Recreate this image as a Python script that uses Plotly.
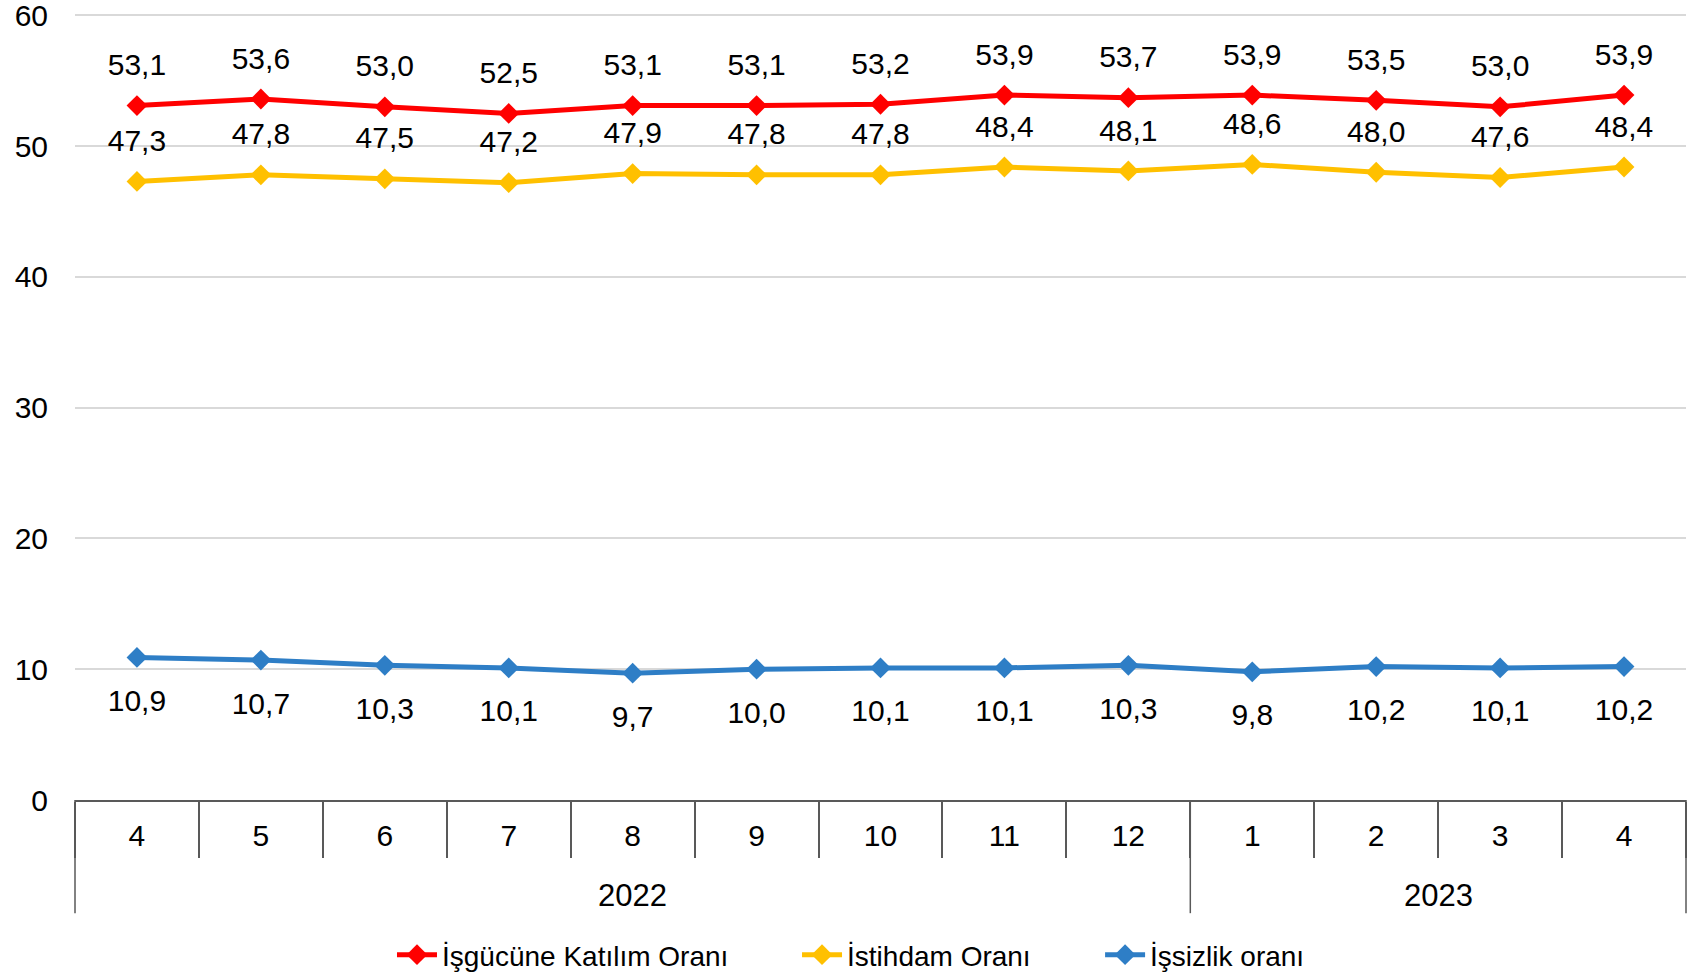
import plotly.graph_objects as go

years = ["2022"] * 9 + ["2023"] * 4
months = ["4", "5", "6", "7", "8", "9", "10", "11", "12", "1", "2", "3", "4"]

katilim = [53.1, 53.6, 53.0, 52.5, 53.1, 53.1, 53.2, 53.9, 53.7, 53.9, 53.5, 53.0, 53.9]
istihdam = [47.3, 47.8, 47.5, 47.2, 47.9, 47.8, 47.8, 48.4, 48.1, 48.6, 48.0, 47.6, 48.4]
issizlik = [10.9, 10.7, 10.3, 10.1, 9.7, 10.0, 10.1, 10.1, 10.3, 9.8, 10.2, 10.1, 10.2]

names = ["İşgücüne Katılım Oranı", "İstihdam Oranı", "İşsizlik oranı"]
colors = ["#FF0000", "#FFC000", "#2E7EC6"]
series = [katilim, istihdam, issizlik]
positions = ["top center", "top center", "bottom center"]
label_pad = [35, 35, 48]          # invisible marker size used to offset labels
legend_ids = ["legend", "legend2", "legend3"]
legend_x = [0.2314, 0.4705, 0.6494]
y_ticks = [0, 10, 20, 30, 40, 50, 60]

FONT = "Liberation Sans, Arial, sans-serif"
AXC = "#595959"

def fmt(v):
    return f"{v:.1f}".replace(".", ",")

n = len(months)
idx = list(range(n))

fig = go.Figure()
for name, col, vals, lg in zip(names, colors, series, legend_ids):
    fig.add_trace(go.Scatter(
        x=idx, y=vals, name=name, legend=lg,
        mode="lines+markers",
        line=dict(color=col, width=5),
        marker=dict(symbol="diamond", size=16, color=col),
        cliponaxis=False,
    ))
for vals, pos, pad in zip(series, positions, label_pad):
    fig.add_trace(go.Scatter(
        x=idx, y=vals, mode="markers+text", showlegend=False, hoverinfo="skip",
        marker=dict(size=pad, color="rgba(0,0,0,0)"),
        text=[fmt(v) for v in vals], textposition=pos,
        textfont=dict(size=30, color="#000000", family=FONT),
        cliponaxis=False,
    ))

# year group labels and dividers
groups = []
for i, y in enumerate(years):
    if not groups or groups[-1][0] != y:
        groups.append([y, i, i])
    else:
        groups[-1][2] = i

annotations = []
shapes = []
for y, a, b in groups:
    annotations.append(dict(x=(a + b) / 2, xref="x", y=-0.121, yref="paper", text=y,
                            showarrow=False, yanchor="middle",
                            font=dict(size=31, family=FONT, color="#000000")))
bounds = [groups[0][1]] + [g[2] + 1 for g in groups]
for bnd in bounds:
    shapes.append(dict(type="line", xref="paper", yref="paper", x0=bnd / n, x1=bnd / n,
                       y0=0, y1=-0.144, line=dict(color=AXC, width=1.5)))

legends = {}
for lg, lx in zip(legend_ids, legend_x):
    legends[lg] = dict(orientation="h", x=lx, xref="container", xanchor="left",
                       y=0.0215, yref="container", yanchor="middle",
                       font=dict(size=28, family=FONT, color="#000000"), itemwidth=40,
                       bgcolor="rgba(0,0,0,0)")

fig.update_layout(
    width=1694, height=976,
    margin=dict(l=75, r=8, t=14, b=176, autoexpand=False),
    paper_bgcolor="white", plot_bgcolor="white",
    font=dict(family=FONT, size=28, color="#000000"),
    showlegend=True,
    annotations=annotations, shapes=shapes,
    **legends,
)
fig.update_yaxes(range=[0, 60.1], tickvals=y_ticks, showgrid=True,
                 gridcolor="#D9D9D9", gridwidth=1.5,
                 zeroline=False, showline=False, ticks="", ticklabelstandoff=26,
                 ticklabeloverflow="allow",
                 tickfont=dict(size=30), automargin=False)
fig.update_xaxes(range=[-0.5, n - 0.5], tickvals=idx, ticktext=months, ticks="",
                 showgrid=False, zeroline=False, showline=True, linecolor=AXC, linewidth=1.5,
                 ticklabelstandoff=8, automargin=False,
                 minor=dict(tickvals=[i - 0.5 for i in range(n + 1)], ticks="outside",
                            ticklen=56, tickcolor=AXC, tickwidth=1.5, showgrid=False),
                 tickfont=dict(size=30))

fig.write_html("out.html", config={"displayModeBar": False},
               post_script="document.body.style.margin='0px';")
